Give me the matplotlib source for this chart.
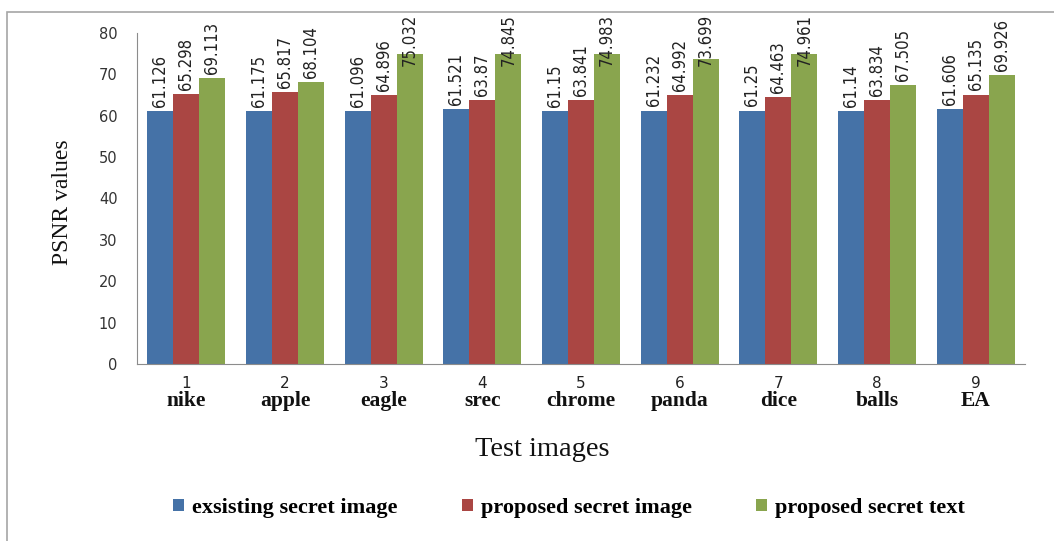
import matplotlib
matplotlib.use("Agg")
import matplotlib.pyplot as plt
import numpy as np
from matplotlib.patches import Rectangle
import matplotlib.transforms as mtransforms

numbers = ["1", "2", "3", "4", "5", "6", "7", "8", "9"]
names = ["nike", "apple", "eagle", "srec", "chrome", "panda", "dice", "balls", "EA"]
existing_image = [61.126, 61.175, 61.096, 61.521, 61.15, 61.232, 61.25, 61.14, 61.606]
proposed_image = [65.298, 65.817, 64.896, 63.87, 63.841, 64.992, 64.463, 63.834, 65.135]
proposed_text = [69.113, 68.104, 75.032, 74.845, 74.983, 73.699, 74.961, 67.505, 69.926]
series_labels = ["exsisting secret image", "proposed secret image", "proposed secret text"]
colors = ["#4572A7", "#AA4643", "#89A54E"]

W, H = 1054, 541
fig = plt.figure(figsize=(W/100, H/100), dpi=100)
fig.patches.append(Rectangle((7/W, -0.1), 1.2, 1 - 12/H + 0.1, transform=fig.transFigure,
                             fill=False, edgecolor="#a6a6a6", linewidth=1.2))
ax = fig.add_axes([137/W, 1 - 364/H, (1025-137)/W, (364-33)/H])

x = np.arange(len(names))
w = 0.263
series = [existing_image, proposed_image, proposed_text]
labels = []
for i, (vals, c, lab) in enumerate(zip(series, colors, series_labels)):
    pos = x + (i - 1) * w
    ax.bar(pos, vals, width=w, color=c, label=lab, edgecolor="none")
    for p, v in zip(pos, vals):
        t = ax.annotate(f"{v:g}", (p, v), xytext=(0, 3), textcoords="offset points",
                        rotation=90, ha="center", va="bottom", fontsize=12,
                        family="DejaVu Sans", fontstretch="condensed", color="#222222",
                        annotation_clip=False)
        labels.append(t)

ax.set_xlim(-0.5, len(names) - 0.5)
ax.set_ylim(0, 80)
ax.set_yticks(np.arange(0, 81, 10))
ax.tick_params(axis="y", length=0, pad=14, labelsize=10.5, labelcolor="#333333")
ax.set_xticks([])
for s in ["top", "right"]:
    ax.spines[s].set_visible(False)
ax.spines["left"].set_color("#8c8c8c")
ax.spines["bottom"].set_color("#8c8c8c")

trans = mtransforms.blended_transform_factory(ax.transData, fig.transFigure)
for xi, n, nm in zip(x, numbers, names):
    ax.text(xi, 1 - 383/H, n, transform=trans, ha="center", va="center",
            fontsize=11, color="#222222", family="DejaVu Sans")
    ax.text(xi, 1 - 401/H, nm, transform=trans, ha="center", va="center",
            fontsize=15.5, fontweight="bold", family="Liberation Serif", color="#111111")

fig.text(542/W, 1 - 450/H, "Test images", ha="center", va="center",
         fontsize=20.5, family="Liberation Serif", color="#111111")
fig.text(62/W, 1 - 202/H, "PSNR values", ha="center", va="center", rotation=90,
         fontsize=17, family="Liberation Serif", color="#111111")

leg = fig.legend(loc="center", bbox_to_anchor=(569/W, 1 - 508/H), ncol=3,
                 frameon=False, prop={"family": "Liberation Serif", "size": 16, "weight": "bold"},
                 handlelength=0.5, handleheight=0.5, handletextpad=0.35, columnspacing=2.9)

# keep data labels inside the chart area (like the spreadsheet does)
fig.canvas.draw()
renderer = fig.canvas.get_renderer()
top_limit = H - 14  # pixels from bottom
for t in labels:
    bb = t.get_window_extent(renderer)
    if bb.y1 > top_limit:
        shift_pt = (bb.y1 - top_limit) * 72 / fig.dpi
        ox, oy = t.xyann
        t.xyann = (ox, oy - shift_pt)

fig.savefig("out.png", dpi=100)
